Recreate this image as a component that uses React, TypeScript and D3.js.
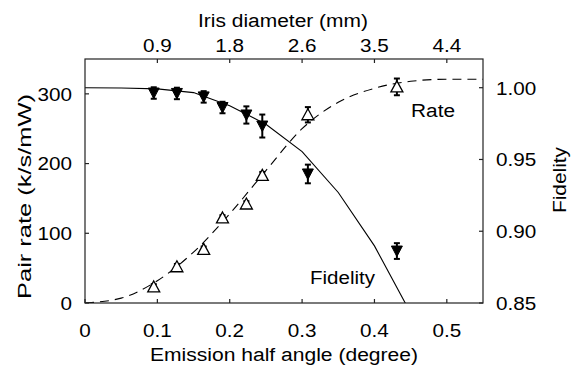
import React from "react";
import * as d3 from "d3";

// measured points (emission half angle in degrees)
const angle = [0.095, 0.127, 0.164, 0.19, 0.223, 0.245, 0.308, 0.431];
const rate = [23, 52, 77, 122, 142, 183, 270, 310];
const rateErr = [4, 4, 4, 4, 4, 5, 11, 12];
const fidelity = [0.9963, 0.996, 0.9936, 0.9862, 0.981, 0.9733, 0.9399, 0.8862];
const fidelityErr = [0.004, 0.004, 0.004, 0.004, 0.006, 0.008, 0.0065, 0.0055];

// theory curves
const rateFitAngle = [0, 0.05, 0.1, 0.15, 0.2, 0.25, 0.3, 0.35, 0.4, 0.45, 0.5, 0.55];
const rateFit = [0, 7, 32, 73, 128, 190, 250, 288, 308, 318, 321, 321];
const fidFitAngle = [0, 0.05, 0.1, 0.15, 0.2, 0.25, 0.3, 0.35, 0.4, 0.45];
const fidFit = [1.0, 0.9998, 0.9992, 0.9966, 0.9875, 0.9745, 0.9555, 0.927, 0.8898, 0.843];

// axis ticks
const angleTicks = [0, 0.1, 0.2, 0.3, 0.4, 0.5];
const irisTickAngles = [0.1, 0.2, 0.3, 0.4, 0.5];
const irisTickLabels = ["0.9", "1.8", "2.6", "3.5", "4.4"];
const rateTicks = [0, 100, 200, 300];
const fidTicks = [0.85, 0.9, 0.95, 1.0];

const W = 575;
const H = 367;
const left = 85;
const right = 483;
const top = 59;
const bottom = 303;
const font = "'Liberation Sans', Arial, Helvetica, sans-serif";
const fs = 19;
const tick = 4;

// text is a little wider than plain Arial in the original figure
const Label = ({ x, y, anchor = "start", rotate = 0, dy, length, children }: any) => (
  <text
    transform={`translate(${x},${y}) rotate(${rotate}) scale(1.09,1)`}
    textAnchor={anchor}
    dy={dy}
    textLength={length ? length / 1.09 : undefined}
    lengthAdjust={length ? "spacingAndGlyphs" : undefined}
  >
    {children}
  </text>
);

export default function App() {
  const x = d3.scaleLinear().domain([0, 0.55]).range([left, right]);
  const yRate = d3.scaleLinear().domain([0, 350]).range([bottom, top]);
  const yFid = d3.scaleLinear().domain([0.85, 1.02]).range([bottom, top]);

  const rateLine = d3
    .line<number>()
    .x((d, i) => x(rateFitAngle[i]))
    .y((d) => yRate(d))
    .curve(d3.curveMonotoneX);
  const fidLine = d3
    .line<number>()
    .x((d, i) => x(fidFitAngle[i]))
    .y((d) => yFid(d));

  const up = (cx: number, cy: number) =>
    `M${cx},${cy - 6}L${cx + 6},${cy + 5}L${cx - 6},${cy + 5}Z`;
  const down = (cx: number, cy: number) =>
    `M${cx - 5.5},${cy - 5}L${cx + 5.5},${cy - 5}L${cx},${cy + 5.5}Z`;

  return (
    <div style={{ position: "absolute", left: 0, top: 0 }}>
      <svg width={W} height={H} style={{ display: "block", background: "#fff" }} fontFamily={font}>
        <defs>
          <clipPath id="plot">
            <rect x={left} y={top} width={right - left} height={bottom - top} />
          </clipPath>
        </defs>

        <g clipPath="url(#plot)" fill="none" stroke="#000" strokeWidth={1.1}>
          <path d={rateLine(rateFit) || ""} strokeDasharray="9,6" />
          <path d={fidLine(fidFit) || ""} />
        </g>

        {/* error bars */}
        <g stroke="#000" strokeWidth={2}>
          {angle.map((a, i) => {
            const cx = x(a);
            const y1 = yRate(rate[i] - rateErr[i]);
            const y2 = yRate(rate[i] + rateErr[i]);
            return (
              <g key={"re" + i}>
                <line x1={cx} x2={cx} y1={y1} y2={y2} />
                <line x1={cx - 3} x2={cx + 3} y1={y1} y2={y1} />
                <line x1={cx - 3} x2={cx + 3} y1={y2} y2={y2} />
              </g>
            );
          })}
          {angle.map((a, i) => {
            const cx = x(a);
            const y1 = yFid(fidelity[i] - fidelityErr[i]);
            const y2 = yFid(fidelity[i] + fidelityErr[i]);
            return (
              <g key={"fe" + i}>
                <line x1={cx} x2={cx} y1={y1} y2={y2} />
                <line x1={cx - 3} x2={cx + 3} y1={y1} y2={y1} />
                <line x1={cx - 3} x2={cx + 3} y1={y2} y2={y2} />
              </g>
            );
          })}
        </g>

        {/* markers */}
        {angle.map((a, i) => (
          <path key={"rm" + i} d={up(x(a), yRate(rate[i]))} fill="#fff" stroke="#000" strokeWidth={1.3} />
        ))}
        {angle.map((a, i) => (
          <path key={"fm" + i} d={down(x(a), yFid(fidelity[i]))} fill="#000" stroke="#000" strokeWidth={1} />
        ))}

        {/* box and ticks */}
        <rect x={left} y={top} width={right - left} height={bottom - top} fill="none" stroke="#222" strokeWidth={1.2} />
        <g stroke="#222" strokeWidth={1.2}>
          {angleTicks.map((t) => (
            <line key={"bt" + t} x1={x(t)} x2={x(t)} y1={bottom} y2={bottom - tick} />
          ))}
          {irisTickAngles.map((t) => (
            <line key={"tt" + t} x1={x(t)} x2={x(t)} y1={top} y2={top + tick} />
          ))}
          {rateTicks.map((t) => (
            <line key={"lt" + t} x1={left} x2={left + tick} y1={yRate(t)} y2={yRate(t)} />
          ))}
          {fidTicks.map((t) => (
            <line key={"rt" + t} x1={right} x2={right - tick} y1={yFid(t)} y2={yFid(t)} />
          ))}
        </g>

        <g fontSize={fs} fill="#000">
          {angleTicks.map((t) => (
            <Label key={"bl" + t} x={x(t)} y={337} anchor="middle">
              {t === 0 ? "0" : d3.format(".1f")(t)}
            </Label>
          ))}
          {irisTickAngles.map((t, i) => (
            <Label key={"tl" + t} x={x(t)} y={51.5} anchor="middle">
              {irisTickLabels[i]}
            </Label>
          ))}
          {rateTicks.map((t) => (
            <Label key={"ll" + t} x={72} y={yRate(t)} dy="0.36em" anchor="end">
              {t}
            </Label>
          ))}
          {fidTicks.map((t) => (
            <Label key={"rl" + t} x={496} y={yFid(t)} dy="0.36em">
              {d3.format(".2f")(t)}
            </Label>
          ))}

          <Label x={284} y={361} anchor="middle" length={268}>Emission half angle (degree)</Label>
          <Label x={283} y={26.5} anchor="middle" length={170}>Iris diameter (mm)</Label>
          <Label x={31} y={196.5} anchor="middle" rotate={-90} length={205}>Pair rate (k/s/mW)</Label>
          <Label x={566} y={180} anchor="middle" rotate={-90} length={66}>Fidelity</Label>

          <Label x={411} y={116.5} length={44}>Rate</Label>
          <Label x={310} y={284} length={65}>Fidelity</Label>
        </g>
      </svg>
    </div>
  );
}
